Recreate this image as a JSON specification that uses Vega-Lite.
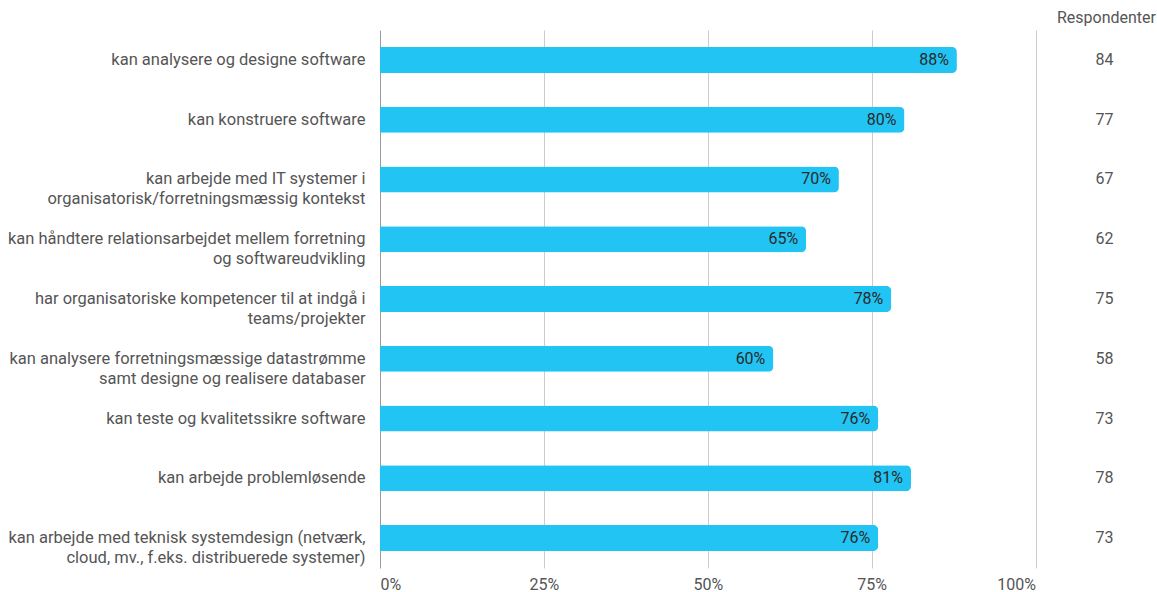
{
  "$schema": "https://vega.github.io/schema/vega-lite/v6.json",
  "width": 767,
  "height": 538,
  "autosize": {"type": "none"},
  "padding": {"left": 380, "top": 30, "right": 10, "bottom": 24},
  "background": "white",
  "config": {
    "font": "Roboto",
    "view": {"stroke": null}
  },
  "title": {
    "text": "Respondenter",
    "anchor": "end",
    "orient": "top",
    "fontSize": 16,
    "fontWeight": "normal",
    "color": "#555555",
    "font": "Roboto",
    "offset": 4,
    "dx": 9
  },
  "data": {
    "values": [
      {"item": "kan analysere og designe software", "share": 0.88, "resp": 84},
      {"item": "kan konstruere software", "share": 0.80, "resp": 77},
      {"item": "kan arbejde med IT systemer i|organisatorisk/forretningsmæssig kontekst", "share": 0.70, "resp": 67},
      {"item": "kan håndtere relationsarbejdet mellem forretning|og softwareudvikling", "share": 0.65, "resp": 62},
      {"item": "har organisatoriske kompetencer til at indgå i|teams/projekter", "share": 0.78, "resp": 75},
      {"item": "kan analysere forretningsmæssige datastrømme|samt designe og realisere databaser", "share": 0.60, "resp": 58},
      {"item": "kan teste og kvalitetssikre software", "share": 0.76, "resp": 73},
      {"item": "kan arbejde problemløsende", "share": 0.81, "resp": 78},
      {"item": "kan arbejde med teknisk systemdesign (netværk,|cloud, mv., f.eks. distribuerede systemer)", "share": 0.76, "resp": 73}
    ]
  },
  "encoding": {
    "y": {
      "field": "item",
      "type": "nominal",
      "sort": null,
      "scale": {"paddingInner": 0.565, "paddingOuter": 0.2825},
      "axis": {
        "title": null,
        "domain": false,
        "ticks": false,
        "labelFontSize": 16.5,
        "labelColor": "#555555",
        "labelPadding": 15,
        "labelLimit": 0,
        "labelLineHeight": 20,
        "labelExpr": "split(datum.label, '|')"
      }
    }
  },
  "layer": [
    {
      "mark": {"type": "bar", "color": "#21C4F3", "cornerRadiusEnd": 5},
      "encoding": {
        "x": {
          "field": "share",
          "type": "quantitative",
          "scale": {"domain": [0, 1.17], "nice": false, "zero": true},
          "axis": {
            "title": null,
            "values": [0, 0.25, 0.5, 0.75, 1],
            "format": ".0%",
            "grid": true,
            "gridColor": {"condition": {"test": "datum.value === 0", "value": "#999999"}, "value": "#cccccc"},
            "gridWidth": 1,
            "domain": false,
            "ticks": false,
            "labelFontSize": 16,
            "labelColor": "#555555",
            "labelPadding": 8,
            "labelFlush": false,
            "labelAlign": {
              "condition": [
                {"test": "datum.value === 0", "value": "left"},
                {"test": "datum.value === 1", "value": "right"}
              ],
              "value": "center"
            }
          }
        }
      }
    },
    {
      "mark": {"type": "text", "align": "right", "dx": -8, "fontSize": 16, "color": "#2a2a2a", "baseline": "middle"},
      "encoding": {
        "x": {"field": "share", "type": "quantitative"},
        "text": {"field": "share", "type": "quantitative", "format": ".0%"}
      }
    },
    {
      "mark": {"type": "text", "align": "center", "fontSize": 16, "color": "#555555", "baseline": "middle"},
      "encoding": {
        "x": {"datum": 1.105, "type": "quantitative"},
        "text": {"field": "resp", "type": "quantitative"}
      }
    }
  ]
}
